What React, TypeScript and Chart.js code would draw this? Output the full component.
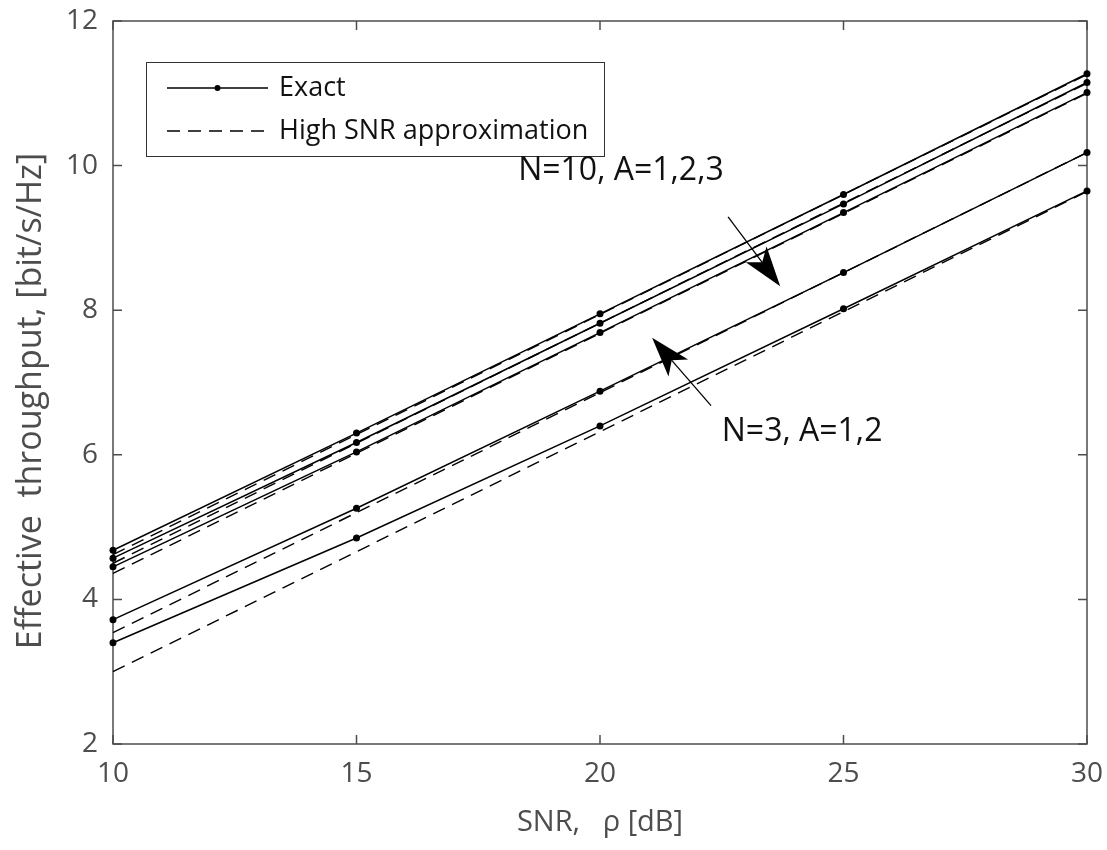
import React, { useEffect, useRef } from "react";
import { Chart, registerables } from "chart.js";

Chart.register(...registerables);

const snr = [10, 15, 20, 25, 30];
const exactN10A1 = [4.68, 6.3, 7.95, 9.6, 11.27];
const exactN10A2 = [4.57, 6.17, 7.82, 9.47, 11.15];
const exactN10A3 = [4.45, 6.04, 7.69, 9.35, 11.01];
const exactN3A1 = [3.72, 5.26, 6.88, 8.52, 10.18];
const exactN3A2 = [3.4, 4.85, 6.4, 8.02, 9.65];
const approxN10A1 = [4.62, 6.28, 7.94, 9.6, 11.26];
const approxN10A2 = [4.5, 6.16, 7.82, 9.48, 11.14];
const approxN10A3 = [4.36, 6.02, 7.68, 9.34, 11.0];
const approxN3A1 = [3.54, 5.2, 6.86, 8.52, 10.18];
const approxN3A2 = [3.0, 4.66, 6.32, 7.98, 9.64];

const xTicks = [10, 15, 20, 25, 30];
const yTicks = [2, 4, 6, 8, 10, 12];

const xTitle = "SNR,   ρ [dB]";
const yTitle = "Effective  throughput, [bit/s/Hz]";
const legendLabels = ["Exact", "High SNR approximation"];
const annotations = [
  { text: "N=10, A=1,2,3", tx: 18.32, ty: 9.92, fromX: 22.63, fromY: 9.29, toX: 23.7, toY: 8.33 },
  { text: "N=3, A=1,2", tx: 22.5, ty: 6.31, fromX: 22.28, fromY: 6.68, toX: 21.07, toY: 7.62 },
];

const FONT = "'Open Sans', 'Noto Sans', sans-serif";
const AXIS_COLOR = "#4d4d4d";

function toPoints(ys: number[]) {
  return snr.map((x, i) => ({ x, y: ys[i] }));
}

const exactSeries = [exactN10A1, exactN10A2, exactN10A3, exactN3A1, exactN3A2];
const approxSeries = [approxN10A1, approxN10A2, approxN10A3, approxN3A1, approxN3A2];

const framePlugin = {
  id: "frame",
  beforeDatasetsDraw(chart: any) {
    const { ctx, chartArea } = chart;
    const { left, right, top, bottom } = chartArea;
    const xs = chart.scales.x;
    const ys = chart.scales.y;
    ctx.save();
    ctx.strokeStyle = AXIS_COLOR;
    ctx.lineWidth = 1.5;
    ctx.strokeRect(left, top, right - left, bottom - top);
    const tl = 9;
    ctx.beginPath();
    xTicks.forEach((v) => {
      const px = xs.getPixelForValue(v);
      ctx.moveTo(px, bottom);
      ctx.lineTo(px, bottom - tl);
      ctx.moveTo(px, top);
      ctx.lineTo(px, top + tl);
    });
    yTicks.forEach((v) => {
      const py = ys.getPixelForValue(v);
      ctx.moveTo(left, py);
      ctx.lineTo(left + tl, py);
      ctx.moveTo(right, py);
      ctx.lineTo(right - tl, py);
    });
    ctx.stroke();
    ctx.restore();
  },
  afterDraw(chart: any) {
    const { ctx } = chart;
    const xs = chart.scales.x;
    const ys = chart.scales.y;
    ctx.save();
    // y title
    ctx.save();
    ctx.translate(31, 401);
    ctx.rotate(-Math.PI / 2);
    ctx.fillStyle = AXIS_COLOR;
    ctx.font = `34px ${FONT}`;
    ctx.textAlign = "center";
    ctx.textBaseline = "middle";
    ctx.fillText(yTitle, 0, 0);
    ctx.restore();
    // legend
    const bx = 146, by = 62, bw = 458, bh = 94;
    ctx.fillStyle = "#ffffff";
    ctx.fillRect(bx, by, bw, bh);
    ctx.strokeStyle = "#333333";
    ctx.lineWidth = 1;
    ctx.strokeRect(bx + 0.5, by + 0.5, bw, bh);
    ctx.strokeStyle = "#000";
    ctx.lineWidth = 1.4;
    ctx.beginPath();
    ctx.moveTo(167, 88);
    ctx.lineTo(268, 88);
    ctx.stroke();
    ctx.fillStyle = "#000";
    ctx.beginPath();
    ctx.arc(217.5, 88, 3, 0, Math.PI * 2);
    ctx.fill();
    ctx.setLineDash([13, 8]);
    ctx.beginPath();
    ctx.moveTo(167, 131);
    ctx.lineTo(268, 131);
    ctx.stroke();
    ctx.setLineDash([]);
    ctx.fillStyle = "#111";
    ctx.font = `27px ${FONT}`;
    ctx.textBaseline = "middle";
    ctx.textAlign = "left";
    ctx.fillText(legendLabels[0], 279, 88);
    ctx.fillText(legendLabels[1], 279, 131);

    // annotations
    annotations.forEach((a) => {
      ctx.font = `32px ${FONT}`;
      ctx.fillStyle = "#111";
      ctx.textBaseline = "middle";
      ctx.textAlign = "left";
      ctx.fillText(a.text, xs.getPixelForValue(a.tx), ys.getPixelForValue(a.ty));
      const x0 = xs.getPixelForValue(a.fromX), y0 = ys.getPixelForValue(a.fromY);
      const x1 = xs.getPixelForValue(a.toX), y1 = ys.getPixelForValue(a.toY);
      const ang = Math.atan2(y1 - y0, x1 - x0);
      const L = 40, W = 13, notch = 10;
      const ux = Math.cos(ang), uy = Math.sin(ang);
      const nx = -uy, ny = ux;
      ctx.strokeStyle = "#000";
      ctx.lineWidth = 1.3;
      ctx.beginPath();
      ctx.moveTo(x0, y0);
      ctx.lineTo(x1 - ux * (L - notch), y1 - uy * (L - notch));
      ctx.stroke();
      ctx.fillStyle = "#000";
      ctx.beginPath();
      ctx.moveTo(x1, y1);
      ctx.lineTo(x1 - ux * L + nx * W, y1 - uy * L + ny * W);
      ctx.lineTo(x1 - ux * (L - notch), y1 - uy * (L - notch));
      ctx.lineTo(x1 - ux * L - nx * W, y1 - uy * L - ny * W);
      ctx.closePath();
      ctx.fill();
    });
    ctx.restore();
  },
};

export default function App() {
  const ref = useRef<HTMLCanvasElement | null>(null);
  useEffect(() => {
    document.body.style.margin = "0";
    const canvas = ref.current;
    if (!canvas) return;
    const datasets: any[] = [];
    exactSeries.forEach((s) => {
      datasets.push({
        data: toPoints(s),
        borderColor: "#000",
        backgroundColor: "#000",
        borderWidth: 1.5,
        pointRadius: 3.5,
        pointHoverRadius: 3.5,
        pointBorderWidth: 0,
        tension: 0,
        clip: false,
      });
    });
    approxSeries.forEach((s) => {
      datasets.push({
        data: toPoints(s),
        borderColor: "#000",
        borderWidth: 1.4,
        borderDash: [13, 8],
        pointRadius: 0,
        tension: 0,
        clip: false,
      });
    });
    const chart = new Chart(canvas, {
      type: "line",
      data: { datasets },
      options: {
        animation: false,
        responsive: false,
        maintainAspectRatio: false,
        layout: { padding: { left: 0, right: 20, top: 21, bottom: 0 } },
        plugins: { legend: { display: false }, tooltip: { enabled: false } },
        scales: {
          x: {
            type: "linear",
            min: 10,
            max: 30,
            afterBuildTicks: (scale: any) => {
              scale.ticks = xTicks.map((v) => ({ value: v }));
            },
            afterFit: (scale: any) => {
              scale.height = 106;
              scale.paddingLeft = 0;
              scale.paddingRight = 0;
            },
            grid: { display: false, drawTicks: false },
            border: { display: false },
            ticks: { color: AXIS_COLOR, font: { family: FONT, size: 28 }, padding: 13, maxRotation: 0 },
            title: {
              display: true,
              text: xTitle,
              color: AXIS_COLOR,
              font: { family: FONT, size: 29 },
              padding: { top: 0, bottom: 10 },
            },
          },
          y: {
            type: "linear",
            min: 2,
            max: 12,
            afterBuildTicks: (scale: any) => {
              scale.ticks = yTicks.map((v) => ({ value: v }));
            },
            afterFit: (scale: any) => {
              scale.width = 113;
              scale.paddingTop = 0;
              scale.paddingBottom = 0;
            },
            grid: { display: false, drawTicks: false },
            border: { display: false },
            ticks: { color: AXIS_COLOR, font: { family: FONT, size: 28 }, padding: 15 },
          },
        },
      },
      plugins: [framePlugin],
    });
    return () => chart.destroy();
  }, []);
  return <canvas ref={ref} width={1107} height={850} style={{ display: "block" }} />;
}
